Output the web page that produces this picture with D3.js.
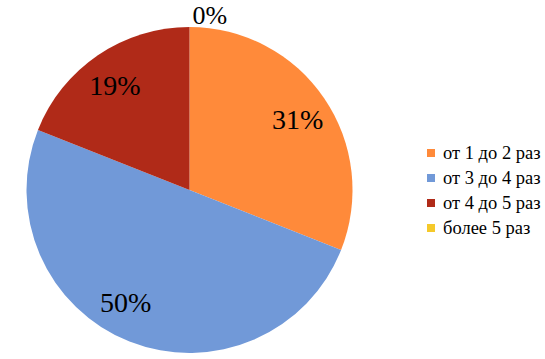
<!DOCTYPE html>
<html>
<head>
<meta charset="utf-8">
<script src="https://cdn.jsdelivr.net/npm/d3@7"></script>
<style>
  body { margin: 0; background: #fff; }
  svg { display: block; }
</style>
</head>
<body>
<svg width="545" height="359"></svg>
<script>
// data
const categories = ['от 1 до 2 раз', 'от 3 до 4 раз', 'от 4 до 5 раз', 'более 5 раз'];
const values = [31, 50, 19, 0];
const colors = ['#FF8A3A', '#7199D8', '#B02A18', '#F5C92A'];

const serif = "'Liberation Serif'";
const $svg = d3.select('svg');
const cx = 189.5, cy = 190, radius = 163;

const pie = d3.pie().sort(null).value((d) => d);
const arcs = pie(values);
const arc = d3.arc().innerRadius(0).outerRadius(radius);

const $g = $svg.append('g').attr('transform', `translate(${cx},${cy})`);

$g.selectAll('path')
    .data(arcs)
    .join('path')
    .attr('d', arc)
    .attr('fill', (d, i) => colors[i]);

// nudge for the big slice label (excel best fit puts it a bit lower)
const angleShift = [0.02, 0.14, -0.02, 0];

$g.selectAll('text.lbl')
    .data(arcs)
    .join('text')
    .attr('class', 'lbl')
    .style('font-family', serif)
    .style('font-size', '28px')
    .attr('fill', '#000')
    .each(function (d, i) {
        const $t = d3.select(this);
        if (d.value === 0) {
            // empty slice -> label outside above the pie
            $t.style('font-size', '26px')
                .attr('x', 3).attr('y', -radius - 3).attr('text-anchor', 'start');
        } else {
            const a = (d.startAngle + d.endAngle) / 2 + angleShift[i];
            const [x, y] = [Math.sin(a) * 129, -Math.cos(a) * 129];
            $t.attr('x', x).attr('y', y).attr('dy', '0.35em').attr('text-anchor', 'middle');
        }
    })
    .text((d) => Math.round(d.value) + '%');

// legend
const $legend = $svg.append('g').attr('transform', 'translate(427,153)');
const $items = $legend.selectAll('g')
    .data(categories)
    .join('g')
    .attr('transform', (d, i) => `translate(0,${i * 25})`);

$items.append('rect')
    .attr('x', 0).attr('y', -4)
    .attr('width', 8).attr('height', 8)
    .attr('fill', (d, i) => colors[i]);

$items.append('text')
    .attr('x', 16)
    .attr('dy', '0.35em')
    .style('font-family', serif)
    .style('font-size', '18.5px')
    .attr('fill', '#000')
    .text((d) => d);
</script>
</body>
</html>
